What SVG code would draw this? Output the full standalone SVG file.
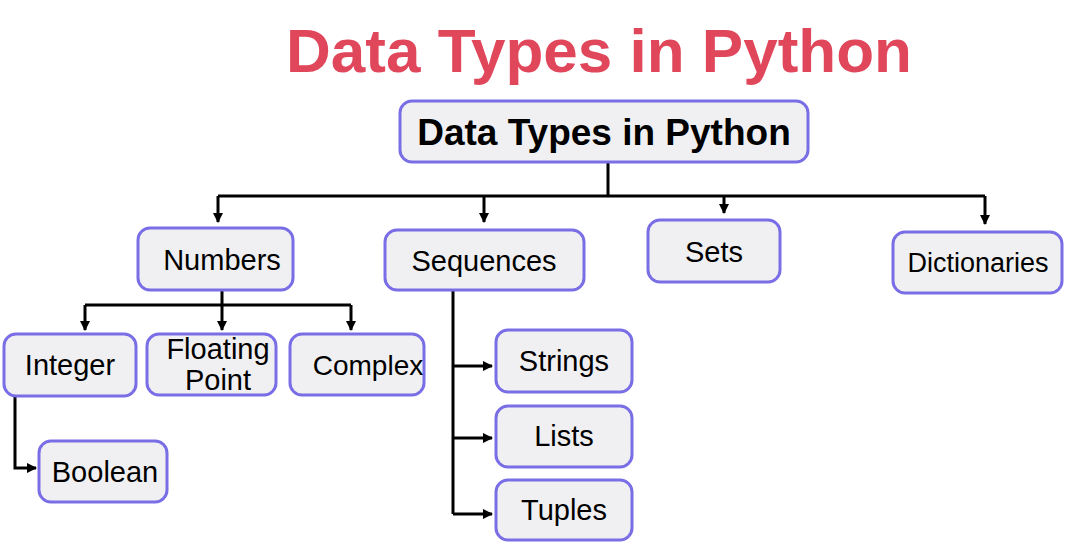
<svg xmlns="http://www.w3.org/2000/svg" width="1081" height="549" viewBox="0 0 1081 549">
<style>
.b{fill:#f0f0f2;stroke:#7a6ee6;stroke-width:3}
.t{font-family:"Liberation Sans",Arial,sans-serif;font-size:29px;fill:#000;text-anchor:middle}
.c{fill:none;stroke:#000;stroke-width:3}
</style>
<defs><marker id="a" viewBox="0 0 10 10" refX="9" refY="5" markerWidth="3.5" markerHeight="3.5" orient="auto"><path d="M0,0L10,5L0,10z" fill="#000"/></marker></defs>
<rect width="1081" height="549" fill="#fff"/>
<text x="599" y="72" style="font-family:'Liberation Sans',Arial,sans-serif;font-size:62px;font-weight:bold;fill:#e0475b;text-anchor:middle">Data Types in Python</text>
<g id="connectors" class="c">
<path d="M608,162V196M218,196H985"/>
<path d="M218,196V222" marker-end="url(#a)"/>
<path d="M484,196V222" marker-end="url(#a)"/>
<path d="M724,196V213" marker-end="url(#a)"/>
<path d="M985,196V224" marker-end="url(#a)"/>
<path d="M222,290V305M85,305H351"/>
<path d="M85,305V330" marker-end="url(#a)"/>
<path d="M222,305V330" marker-end="url(#a)"/>
<path d="M351,305V330" marker-end="url(#a)"/>
<path d="M15,396V468H36" marker-end="url(#a)"/>
<path d="M453,288V514"/>
<path d="M453,366H492" marker-end="url(#a)"/>
<path d="M453,438H492" marker-end="url(#a)"/>
<path d="M453,514H492" marker-end="url(#a)"/>
</g>
<g id="root"><rect class="b" x="400" y="101" width="408" height="61" rx="12"/><text class="t" x="604" y="145" style="font-weight:bold;font-size:37px">Data Types in Python</text></g>
<g id="numbers"><rect class="b" x="138" y="228" width="155" height="62" rx="12"/><text class="t" x="222" y="270">Numbers</text></g>
<g id="sequences"><rect class="b" x="385" y="230" width="199" height="60" rx="12"/><text class="t" x="484" y="271">Sequences</text></g>
<g id="sets"><rect class="b" x="648" y="220" width="132" height="62" rx="12"/><text class="t" x="714" y="262">Sets</text></g>
<g id="dictionaries"><rect class="b" x="893" y="232" width="169" height="61" rx="12"/><text class="t" x="978" y="272" style="font-size:27px">Dictionaries</text></g>
<g id="integer"><rect class="b" x="4" y="334" width="132" height="62" rx="12"/><text class="t" x="70" y="375">Integer</text></g>
<g id="floating"><rect class="b" x="147" y="334" width="129" height="61" rx="12"/><text class="t" x="218" y="359">Floating</text><text class="t" x="218" y="390">Point</text></g>
<g id="complex"><rect class="b" x="290" y="334" width="134" height="61" rx="12"/><text class="t" x="368" y="375" style="font-size:28px">Complex</text></g>
<g id="boolean"><rect class="b" x="39" y="441" width="128" height="61" rx="12"/><text class="t" x="105" y="482">Boolean</text></g>
<g id="strings"><rect class="b" x="496" y="330" width="136" height="62" rx="12"/><text class="t" x="564" y="371">Strings</text></g>
<g id="lists"><rect class="b" x="496" y="406" width="136" height="61" rx="12"/><text class="t" x="564" y="446">Lists</text></g>
<g id="tuples"><rect class="b" x="496" y="480" width="136" height="60" rx="12"/><text class="t" x="564" y="520">Tuples</text></g>
</svg>
